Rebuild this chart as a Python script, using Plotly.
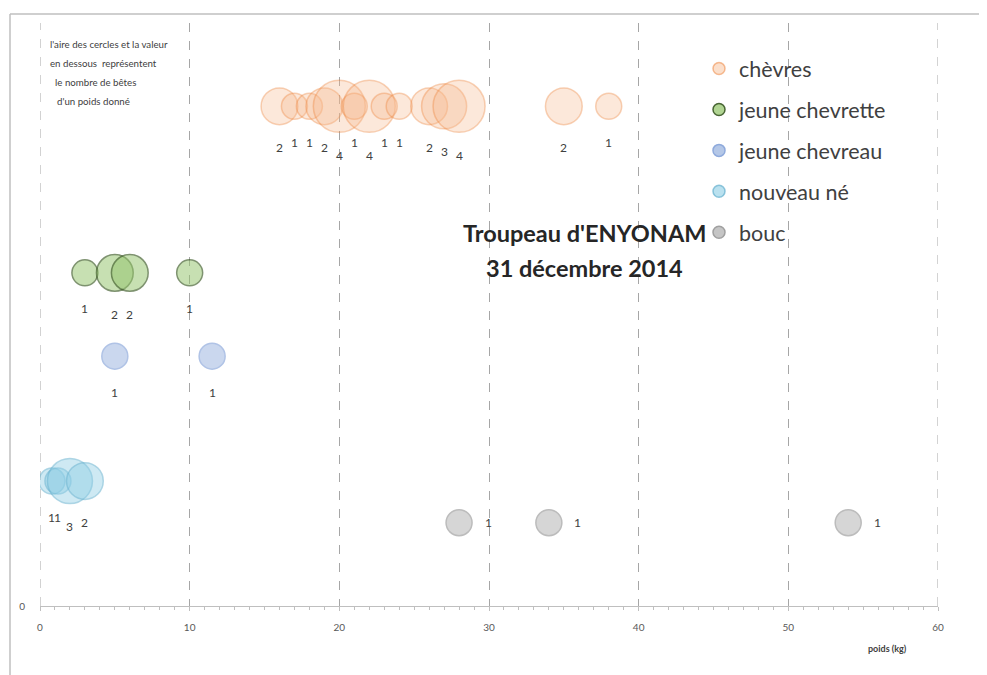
import math
import plotly.graph_objects as go

# ---------------- data ----------------
series_names = ["chèvres", "jeune chevrette", "jeune chevreau", "nouveau né", "bouc"]
chevres_poids = [16, 17, 18, 19, 20, 21, 22, 23, 24, 26, 27, 28, 35, 38]
chevres_nombre = [2, 1, 1, 2, 4, 1, 4, 1, 1, 2, 3, 4, 2, 1]
chevrette_poids = [3, 5, 6, 10]
chevrette_nombre = [1, 2, 2, 1]
chevreau_poids = [5, 11.5]
chevreau_nombre = [1, 1]
nouveau_poids = [0.8, 1.2, 2, 3]
nouveau_nombre = [1, 1, 3, 2]
bouc_poids = [28, 34, 54]
bouc_nombre = [1, 1, 1]
rangs = [12, 8, 6, 3, 2]          # vertical level of each group
x_tick_vals = [0, 10, 20, 30, 40, 50, 60]
y_tick_vals = [0]
y_range = [0, 14]

note_lines = ["l'aire des cercles et la valeur",
              "en dessous  représentent",
              "le nombre de bêtes",
              "d'un poids donné"]
title_lines = ["Troupeau d'ENYONAM", "31 décembre 2014"]
x_title = "poids (kg)"

# ---------------- styles ----------------
styles = [
    dict(fill="rgba(247,185,140,0.45)", line="rgba(237,125,49,0.5)"),
    dict(fill="rgba(150,198,110,0.75)", line="rgba(56,87,35,0.9)"),
    dict(fill="rgba(180,199,231,1)", line="rgba(143,170,220,1)"),
    dict(fill="rgba(140,205,228,0.6)", line="rgba(100,175,205,0.7)"),
    dict(fill="rgba(191,191,191,0.9)", line="rgba(160,160,160,1)"),
]
label_pos = ["below", "below", "below", "below", "right"]

groups = [
    (chevres_poids, chevres_nombre),
    (chevrette_poids, chevrette_nombre),
    (chevreau_poids, chevreau_nombre),
    (nouveau_poids, nouveau_nombre),
    (bouc_poids, bouc_nombre),
]

BASE_D = 26  # diameter (px) of a bubble for one animal
OFF = 8      # page body margin of the html page
W, H = 987 - OFF, 675 - OFF
# plot area in screen pixels: x 40..938, y 23..606
L, T = 40 - OFF, 23 - OFF
R, B = W - (938 - OFF), H - (606 - OFF)
PW, PH = W - L - R, H - T - B


def px_to_paper(sx, sy):
    """screen pixel -> paper coordinates"""
    return (sx - OFF - L) / PW, (H - B - (sy - OFF)) / PH


fig = go.Figure()
annotations = []
FONT = "Lato"

for name, (xs, ns), yv, st, lp in zip(series_names, groups, rangs, styles, label_pos):
    sizes = [BASE_D * math.sqrt(n) for n in ns]
    fig.add_trace(go.Scatter(
        x=xs, y=[yv] * len(xs), mode="markers", name=name, showlegend=False,
        marker=dict(size=sizes, sizemode="diameter", color=st["fill"],
                    line=dict(color=st["line"], width=1.5)),
        hoverinfo="x+text", text=[str(n) for n in ns],
    ))
    for x, n, s in zip(xs, ns, sizes):
        r = s / 2
        a = dict(x=x, y=yv, xref="x", yref="y", text=str(n), showarrow=False,
                 font=dict(family=FONT, size=12, color="#404040"))
        if lp == "below":
            a["yshift"] = -(r + 23)
        else:
            a["xshift"] = r + 16
        annotations.append(a)

# legend-only entries
for i, (name, st) in enumerate(zip(series_names, styles)):
    fig.add_trace(go.Scatter(
        x=[None], y=[None], mode="markers", name=name, legendgroup=str(i),
        marker=dict(size=12, color=st["fill"], line=dict(color=st["line"], width=1.5)),
    ))

# note text (top-left)
note_pos = [(48, 44), (48, 63), (53, 82), (55, 101)]
for t, (px, py) in zip(note_lines, note_pos):
    x, y = px_to_paper(px, py)
    annotations.append(dict(text=t, xref="paper", yref="paper", x=x, y=y,
                            xanchor="left", yanchor="middle", showarrow=False,
                            font=dict(family=FONT, size=9.7, color="#404040")))

# title
for t, py in zip(title_lines, [233, 268]):
    x, y = px_to_paper(584, py)
    annotations.append(dict(text="<b>" + t + "</b>", xref="paper", yref="paper",
                            x=x, y=y, xanchor="center", yanchor="middle", showarrow=False,
                            font=dict(family=FONT, size=23.5, color="#262626")))

# axis title
x, y = px_to_paper(887, 648)
annotations.append(dict(text="<b>" + x_title + "</b>", xref="paper", yref="paper",
                        x=x, y=y, xanchor="center", yanchor="middle", showarrow=False,
                        font=dict(family=FONT, size=9, color="#404040")))

# frame lines and edge gridlines
fx0, fy0 = px_to_paper(10, 14)
fx1, fy1 = px_to_paper(987, 675)
shapes = [
    dict(type="line", xref="paper", yref="paper", x0=fx0, x1=fx1, y0=fy0, y1=fy0,
         line=dict(color="#BFBFBF", width=1.5)),
    dict(type="line", xref="paper", yref="paper", x0=fx0, x1=fx0, y0=fy0, y1=fy1,
         line=dict(color="#BFBFBF", width=1.5)),
]
for gx in (x_tick_vals[0], x_tick_vals[-1]):
    shapes.append(dict(type="line", xref="x", yref="y", x0=gx, x1=gx,
                       y0=y_range[0], y1=y_range[1], layer="below",
                       line=dict(color="#A6A6A6", width=1, dash="dash")))

lx, ly = px_to_paper(699, 48)
fig.update_layout(
    width=W, height=H,
    margin=dict(l=L, r=R, t=T, b=B, autoexpand=False),
    paper_bgcolor="white", plot_bgcolor="white",
    font=dict(family=FONT, color="#595959"),
    annotations=annotations,
    shapes=shapes,
    legend=dict(x=lx, y=ly, xanchor="left", yanchor="top",
                font=dict(family=FONT, size=21.5, color="#404040"),
                tracegroupgap=10, itemwidth=30, bgcolor="rgba(0,0,0,0)"),
    xaxis=dict(range=[x_tick_vals[0], x_tick_vals[-1]], tickvals=x_tick_vals,
               showgrid=True, gridcolor="#A6A6A6", griddash="dash", gridwidth=1,
               zeroline=False, showline=True, linecolor="#BFBFBF", linewidth=1,
               ticks="outside", ticklen=4, tickcolor="#BFBFBF", automargin=False,
               minor=dict(dtick=1, ticks="outside", ticklen=3, tickcolor="#BFBFBF"),
               tickfont=dict(family=FONT, size=10, color="#595959"),
               ticklabelstandoff=8),
    yaxis=dict(range=y_range, tickvals=y_tick_vals, showgrid=False, zeroline=False,
               showline=False, ticks="", ticklabelstandoff=14, automargin=False,
               tickfont=dict(family=FONT, size=10, color="#595959")),
)

fig.write_html("out.html")
